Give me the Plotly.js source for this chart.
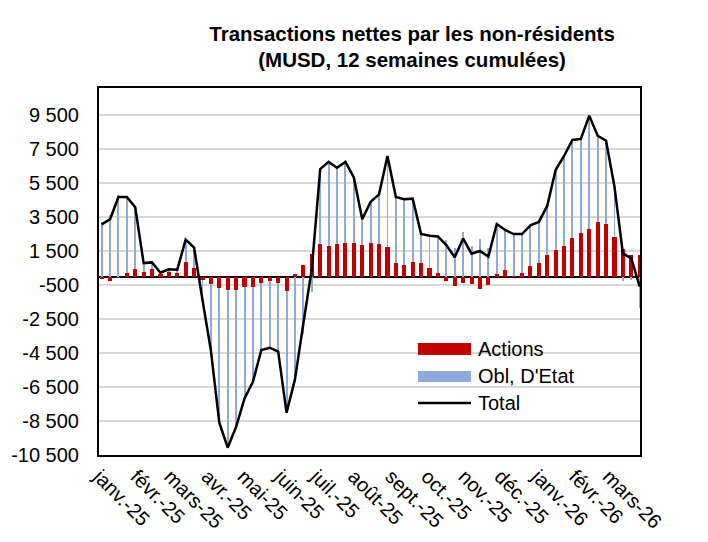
<!DOCTYPE html>
<html>
<head>
<meta charset="utf-8">
<script src="https://cdn.plot.ly/plotly-3.0.1.min.js"></script>
<style>html,body{margin:0;padding:0;background:#fff;}#chart{width:708px;height:542px;}</style>
</head>
<body>
<div id="chart"></div>
<script>
// Weekly observation dates (Fridays)
const dates = [
 '2025-01-03','2025-01-10','2025-01-17','2025-01-24','2025-01-31',
 '2025-02-07','2025-02-14','2025-02-21','2025-02-28',
 '2025-03-07','2025-03-14','2025-03-21','2025-03-28',
 '2025-04-04','2025-04-11','2025-04-18','2025-04-25',
 '2025-05-02','2025-05-09','2025-05-16','2025-05-23','2025-05-30',
 '2025-06-06','2025-06-13','2025-06-20','2025-06-27',
 '2025-07-04','2025-07-11','2025-07-18','2025-07-25',
 '2025-08-01','2025-08-08','2025-08-15','2025-08-22','2025-08-29',
 '2025-09-05','2025-09-12','2025-09-19','2025-09-26',
 '2025-10-03','2025-10-10','2025-10-17','2025-10-24','2025-10-31',
 '2025-11-07','2025-11-14','2025-11-21','2025-11-28',
 '2025-12-05','2025-12-12','2025-12-19','2025-12-26',
 '2026-01-02','2026-01-09','2026-01-16','2026-01-23','2026-01-30',
 '2026-02-06','2026-02-13','2026-02-20','2026-02-27',
 '2026-03-06','2026-03-13','2026-03-20','2026-03-27'
];
// Actions (MUSD, 12 weeks cumulated)
const actions = [
 -150,-250,-100,200,450,270,440,140,270,190,830,480,-220,-460,-700,-780,
 -800,-610,-610,-410,-280,-410,-840,160,650,1350,1910,1790,1910,1950,1970,1830,
 1950,1910,1740,770,700,870,770,520,210,-270,-530,-390,-470,-730,-490,140,
 410,30,220,610,820,1260,1560,1810,2250,2540,2780,3190,3090,2320,1610,1260,1260
];
// Obligations d'Etat
const oblEtat = [
 3220,3610,4780,4480,3620,520,390,80,150,210,1340,1220,-1160,-3900,-7900,-9290,
 -8040,-6560,-5580,-3910,-3910,-4010,-7170,-6210,-3400,-900,4410,4950,4490,4790,3860,1540,
 2450,2920,5350,3910,3840,3710,1730,1880,2150,2120,1660,2620,1810,2230,1660,2950,
 2330,2470,2280,2400,2390,2890,4700,5280,5780,5550,6680,5090,4900,2960,-250,-190,-1860
];
// Total
const total = [
 3070,3360,4680,4680,4070,790,830,220,420,400,2170,1700,-1380,-4360,-8600,-10070,
 -8840,-7170,-6190,-4320,-4190,-4420,-8010,-6050,-2750,450,6320,6740,6400,6740,5830,3370,
 4400,4830,7090,4680,4540,4580,2500,2400,2360,1850,1130,2230,1340,1500,1170,3090,
 2740,2500,2500,3010,3210,4150,6260,7090,8030,8090,9460,8280,7990,5280,1360,1070,-600
];
const monthTicks = ['2025-01-01','2025-02-01','2025-03-01','2025-04-01','2025-05-01','2025-06-01','2025-07-01','2025-08-01','2025-09-01','2025-10-01','2025-11-01','2025-12-01','2026-01-01','2026-02-01','2026-03-01'];
const monthLabels = ['janv.-25','févr.-25','mars-25','avr.-25','mai-25','juin-25','juil.-25','août-25','sept.-25','oct.-25','nov.-25','déc.-25','janv.-26','févr.-26','mars-26'];
const yTickVals = [-10500,-8500,-6500,-4500,-2500,-500,1500,3500,5500,7500,9500];
const yTickText = ['-10 500','-8 500','-6 500','-4 500','-2 500','-500','1 500','3 500','5 500','7 500','9 500'];
const seriesNames = ['Actions', "Obl, D'Etat", 'Total'];

const DAY = 86400000;
const FONT = 'Liberation Sans, Arial, sans-serif';
const RED = '#c00000', BLUE = '#8eaadb';

const traces = [
  {type:'bar', name:seriesNames[0], x:dates, y:actions, width:dates.map(()=>3.4*DAY),
   marker:{color:RED, line:{width:0}}, showlegend:false, hoverinfo:'x+y+name'},
  {type:'bar', name:seriesNames[1], x:dates, y:oblEtat, width:dates.map(()=>1.6*DAY),
   marker:{color:BLUE, line:{width:0}}, showlegend:false, hoverinfo:'x+y+name'},
  {type:'scatter', mode:'lines', name:seriesNames[2], x:dates, y:total,
   line:{color:'#000', width:2.5}, showlegend:false}
];

// legend drawn in paper coordinates
const lx0 = 0.5896, lx1 = 0.6876, ltx = 0.6969;
const shapes = [
  {type:'rect', xref:'paper', yref:'paper', x0:lx0, x1:lx1, y0:0.2725, y1:0.3052, fillcolor:RED, line:{width:0}},
  {type:'rect', xref:'paper', yref:'paper', x0:lx0, x1:lx1, y0:0.1989, y1:0.2289, fillcolor:BLUE, line:{width:0}},
  {type:'line', xref:'paper', yref:'paper', x0:lx0, x1:lx1, y0:0.1417, y1:0.1417, line:{color:'#000', width:2.5}}
];
const legY = [0.2888, 0.2139, 0.1417];
const annotations = seriesNames.map((n,i)=>({
  xref:'paper', yref:'paper', x:ltx, y:legY[i], xanchor:'left', yanchor:'middle',
  text:n, showarrow:false, font:{family:FONT, size:20, color:'#000'}
}));

const layout = {
  width:708, height:542,
  margin:{l:99, r:68, t:88, b:87, pad:0},
  paper_bgcolor:'#fff', plot_bgcolor:'#fff',
  barmode:'relative', bargap:0,
  showlegend:false,
  title:{
    text:'<b>Transactions nettes par les non-résidents<br>(MUSD, 12 semaines cumulées)</b>',
    font:{family:FONT, size:20.5, color:'#000'},
    x:0.582, xanchor:'center', y:0.925, yanchor:'top', xref:'container', yref:'container'
  },
  xaxis:{
    type:'date',
    range:['2024-12-31 20:00','2026-03-27 06:00'],
    tickmode:'array', tickvals:monthTicks, ticktext:monthLabels,
    tickangle:45, ticks:'', showgrid:false,
    showline:true, linecolor:'#000', linewidth:2, mirror:true,
    tickfont:{family:FONT, size:20, color:'#000'},
    zeroline:false
  },
  yaxis:{
    range:[-10500, 11088],
    tickmode:'array', tickvals:yTickVals, ticktext:yTickText,
    ticks:'', ticklabelstandoff:14,
    showgrid:true, gridcolor:'#d9d9d9', gridwidth:1.5,
    zeroline:true, zerolinecolor:'#000', zerolinewidth:2,
    showline:true, linecolor:'#000', linewidth:2, mirror:true,
    tickfont:{family:FONT, size:20, color:'#000'}
  },
  shapes:shapes,
  annotations:annotations
};

Plotly.newPlot('chart', traces, layout, {displayModeBar:false, staticPlot:true});
</script>
</body>
</html>
